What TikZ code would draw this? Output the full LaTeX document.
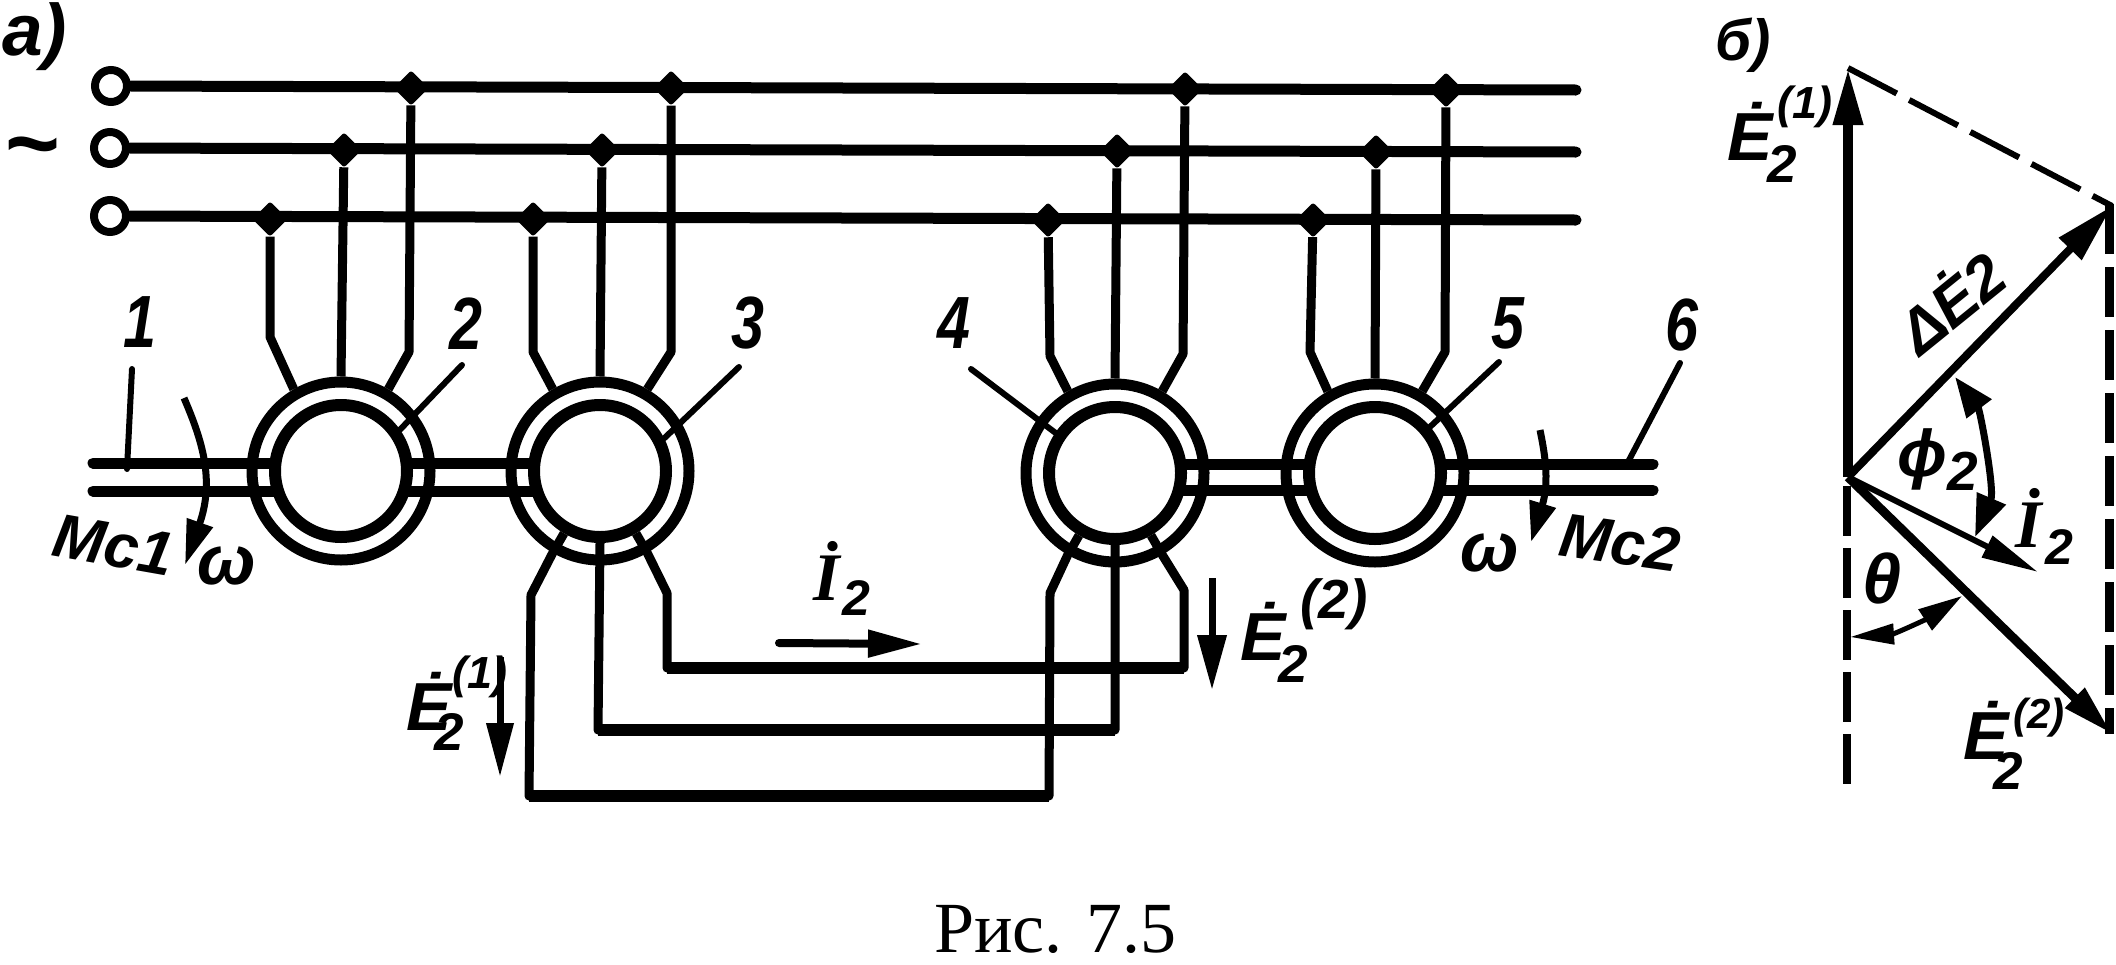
\documentclass[tikz,border=0pt]{standalone}
\usepackage{fontspec}
\usepackage{graphicx}
\setmainfont{Liberation Sans}
\newfontfamily\capfont{Liberation Serif}
\newfontfamily\serfont{Liberation Serif}
\usetikzlibrary{arrows.meta,shapes.geometric}
\newcommand{\sz}[1]{\fontsize{#1}{#1}\selectfont}
% E-dot with subscript 2 and superscript (n)
\newcommand{\EE}[6]{\rlap{Ė}\rlap{\hspace{#2pt}\raisebox{-#3pt}{\sz{53}2}}\hspace{#4pt}\raisebox{#5pt}{\sz{#6}(#1)}}
\newcommand{\IIdot}[2]{\rlap{{\serfont İ}}\hspace{#1pt}\raisebox{-#2pt}{\sz{50}2}}
\tikzset{
  bus/.style={line width=11pt,line cap=round},
  lead/.style={line width=9pt,line join=round},
  wire/.style={line width=9pt,line join=round},
  wireh/.style={line width=12pt},
  shaft/.style={line width=11pt,line cap=round},
  leader/.style={line width=6pt,line cap=round},
  term/.style={circle,draw,line width=8pt,fill=white,minimum size=32pt,inner sep=0pt},
  junct/.style={diamond,draw,fill=black,line width=5pt,line join=round,minimum width=30pt,minimum height=30pt,inner sep=0pt},
  rotor/.style={circle,draw,line width=12pt,fill=white,minimum size=132pt,inner sep=0pt},
  stator/.style={circle,draw,line width=11pt,fill=white,minimum size=178pt,inner sep=0pt},
  lbl/.style={font=\bfseries\itshape\sz{68},inner sep=0pt,anchor=base west},
  num/.style={font=\bfseries\itshape\sz{74},inner sep=0pt,anchor=center},
  vec/.style={line width=#1,line cap=butt},
  dash1/.style={line width=#1,dash pattern=on 55pt off 14pt},
}
\begin{document}
\begin{tikzpicture}[x=1pt,y=-1pt]
\useasboundingbox (0,0) rectangle (2116,964);
\fill[white] (0,0) rectangle (2116,964);

% terminals and buses
\node[term] (t1) at (111,86) {};
\node[term] (t2) at (110,148) {};
\node[term] (t3) at (110,216) {};
\coordinate (e1) at (1576,90);
\coordinate (e2) at (1576,152);
\coordinate (e3) at (1576,220);
\draw[bus] (t1) -- (e1);
\draw[bus] (t2) -- (e2);
\draw[bus] (t3) -- (e3);

% junctions
\node[junct] (a1) at (411,88) {};
\node[junct] (a2) at (671,88) {};
\node[junct] (a3) at (1185,89) {};
\node[junct] (a4) at (1446,90) {};
\node[junct] (b1) at (344,150) {};
\node[junct] (b2) at (602,150) {};
\node[junct] (b3) at (1117,151) {};
\node[junct] (b4) at (1376,152) {};
\node[junct] (c1) at (270,219) {};
\node[junct] (c2) at (533,219) {};
\node[junct] (c3) at (1048,220) {};
\node[junct] (c4) at (1313,220) {};

% stators
\node[stator] (m2o) at (341,471) {};
\node[stator] (m3o) at (600,471) {};
\node[stator] (m4o) at (1115,473) {};
\node[stator] (m5o) at (1375,473) {};

% stator leads
\draw[lead] (c1) -- ++(0,118) -- (m2o.120);
\draw[lead] (b1) -- (m2o.90);
\draw[lead] (a1) -- ++(-2,264) -- (m2o.60);
\draw[lead] (c2) -- ++(0,133) -- (m3o.120);
\draw[lead] (b2) -- (m3o.90);
\draw[lead] (a2) -- ++(0,264) -- (m3o.60);
\draw[lead] (c3) -- ++(2,136) -- (m4o.120);
\draw[lead] (b3) -- (m4o.90);
\draw[lead] (a3) -- ++(-2,265) -- (m4o.60);
\draw[lead] (c4) -- ++(-3,132) -- (m5o.120);
\draw[lead] (b4) -- (m5o.90);
\draw[lead] (a4) -- ++(-1,262) -- (m5o.60);

% shaft: runs from the left end into machine 3, and from machine 4 to the right end
\coordinate (s1) at (93,463);
\coordinate (s2) at (93,491);
\coordinate (s1m) at (600,463);
\coordinate (s2m) at (600,491);
\coordinate (s3m) at (1115,464);
\coordinate (s4m) at (1115,490);
\coordinate (s3) at (1653,464);
\coordinate (s4) at (1653,490);
\draw[shaft] (s1) -- (s1m);
\draw[shaft] (s2) -- (s2m);
\draw[shaft] (s3m) -- (s3);
\draw[shaft] (s4m) -- (s4);

% rotors
\node[rotor] (m2i) at (341,471) {};
\node[rotor] (m3i) at (600,471) {};
\node[rotor] (m4i) at (1115,473) {};
\node[rotor] (m5i) at (1375,473) {};

% number leaders
\coordinate (l1) at (132,369);
\coordinate (l1e) at (127,469);
\coordinate (l2) at (462,365);
\coordinate (l3) at (739,367);
\coordinate (l4) at (971,369);
\coordinate (l5) at (1499,362);
\coordinate (l6) at (1680,363);
\coordinate (l6e) at (1628,462);
\draw[leader] (l1) -- (l1e);
\draw[leader] (l2) -- (m2i.35);
\draw[leader] (l3) -- (m3i.27);
\draw[leader] (l4) -- (m4i.146);
\draw[leader] (l5) -- (m5i.40);
\draw[leader] (l6) -- (l6e);

% rotor windings
\coordinate (w1a) at (531,595);
\coordinate (w1b) at (529,796);
\coordinate (w1c) at (1049,796);
\coordinate (w1d) at (1050,593);
\coordinate (w2b) at (598,730);
\coordinate (w2c) at (1115,730);
\coordinate (w3a) at (667,593);
\coordinate (w3b) at (667,668);
\coordinate (w3c) at (1184,668);
\coordinate (w3d) at (1184,590);
\draw[wire] (m3i.240) -- (m3o.240) -- (w1a) -- (w1b) -- (w1c) -- (w1d) -- (m4o.240) -- (m4i.240);
\draw[wire] (m3i.270) -- (w2b) -- (w2c) -- (m4i.270);
\draw[wire] (m3i.300) -- (m3o.300) -- (w3a) -- (w3b) -- (w3c) -- (w3d) -- (m4o.300) -- (m4i.300);
\draw[wireh] (w1b) -- (w1c);
\draw[wireh] (w2b) -- (w2c);
\draw[wireh] (w3b) -- (w3c);

% rotation arrows
\coordinate (r1) at (184,398);
\coordinate (r1e) at (185,565);
\draw[line width=7pt,-{Triangle[length=45pt,width=26pt]}] (r1) .. controls (202,440) and (215,480) .. (r1e);
\coordinate (r2) at (1540,430);
\coordinate (r2e) at (1531,542);
\draw[line width=7pt,-{Triangle[length=40pt,width=26pt]}] (r2) .. controls (1544,450) and (1550,480) .. (r2e);

% current and EMF arrows
\coordinate (i1) at (779,643);
\coordinate (i2) at (922,644);
\draw[line width=8pt,line cap=round,-{Triangle[length=54pt,width=26pt]}] (i1) -- (i2);
\coordinate (f1) at (500,657);
\coordinate (f2) at (500,777);
\draw[line width=7pt,-{Triangle[length=54pt,width=26pt]}] (f1) -- (f2);
\coordinate (g1) at (1212,578);
\coordinate (g2) at (1212,690);
\draw[line width=7pt,-{Triangle[length=55pt,width=28pt]}] (g1) -- (g2);

% labels, panel a
\node[lbl,font=\bfseries\itshape\sz{73}] (la) at (2,55) {а)};
\node[num,font=\bfseries\sz{94}] (tilde) at (33,156) {\textasciitilde};
\node[num] (n1) at (140,322) {\scalebox{.8}[1]{1}};
\node[num] (n2) at (466,324) {\scalebox{.8}[1]{2}};
\node[num] (n3) at (748,323) {\scalebox{.8}[1]{3}};
\node[num] (n4) at (954,323) {\scalebox{.8}[1]{4}};
\node[num] (n5) at (1508,323) {\scalebox{.8}[1]{5}};
\node[num] (n6) at (1682,325) {\scalebox{.8}[1]{6}};
\node[num,font=\bfseries\itshape\sz{62},rotate=-10] (mc1) at (114,545) {Mc1};
\node[num,font=\bfseries\itshape\sz{62},rotate=-8] (mc2) at (1620,543) {Mc2};
\node[num,font=\bfseries\itshape\sz{70}] (om1) at (227,566) {ω};
\node[num,font=\bfseries\itshape\sz{70}] (om2) at (1490,553) {ω};
\node[lbl] (ii) at (813,600) {\IIdot{29}{15}};
\node[lbl] (em1) at (406,730) {\EE{1}{28}{20}{46}{42}{45}};
\node[lbl] (em2) at (1240,660) {\EE{2}{38}{22}{60}{42}{55}};

% phasor diagram
\coordinate (O) at (1848,477);
\coordinate (A) at (1848,68);
\coordinate (B) at (2112,206);
\coordinate (C) at (2112,734);
\coordinate (D) at (2038,572);
\coordinate (Bd) at (2109,204);
\coordinate (Cd) at (2109,734);
\coordinate (Od) at (1847,486);
\coordinate (Ed) at (1847,786);
\draw[dash1=6pt] (A) -- (B);
\draw[line width=9pt,dash pattern=on 50pt off 13pt] (Bd) -- (Cd);
\draw[line width=8pt,dash pattern=on 50pt off 12pt] (Od) -- (Ed);
\draw[vec=10pt,-{Triangle[length=57pt,width=28pt]}] (O) -- (A);
\draw[vec=8pt,-{Triangle[length=60pt,width=30pt]}] (O) -- (B);
\draw[vec=9pt,-{Triangle[length=52pt,width=26pt]}] (O) -- (C);
\draw[vec=6pt,-{Triangle[length=57pt,width=23pt]}] (O) -- (D);
\coordinate (p1) at (1955,377);
\coordinate (p2) at (1975,537);
\draw[line width=7pt,{Triangle[length=40pt,width=30pt]}-{Triangle[length=42pt,width=30pt]}] (p1) .. controls (1980,410) and (1995,490) .. (p2);
\coordinate (q1) at (1850,637);
\coordinate (q2) at (1962,596);
\draw[line width=5pt,{Triangle[length=44pt,width=20pt]}-{Triangle[length=44pt,width=24pt]}] (q1) .. controls (1894,634) and (1925,620) .. (q2);

% labels, panel b
\node[lbl,font=\bfseries\itshape\sz{58}] (lb) at (1715,60) {б)};
\node[lbl] (ea) at (1727,160) {\EE{1}{40}{22}{50}{42}{45}};
\node[lbl] (eb) at (1963,759) {\EE{2}{30}{30}{50}{31}{42}};
\node[lbl,font=\bfseries\itshape\sz{62},rotate=39] (de) at (1920,358) {ΔĖ2};
\node[lbl,font=\bfseries\itshape\sz{66}] (phi) at (1897,476) {ϕ\raisebox{-14pt}{\sz{55}2}};
\node[lbl] (ip) at (2015,547) {\IIdot{30}{17}};
\node[num,font=\bfseries\itshape\sz{70}] (th) at (1882,578) {θ};

% caption
\node[inner sep=0pt,anchor=base west,font=\capfont\sz{72}] (cap) at (934,952) {Рис. 7.5};
\end{tikzpicture}
\end{document}
